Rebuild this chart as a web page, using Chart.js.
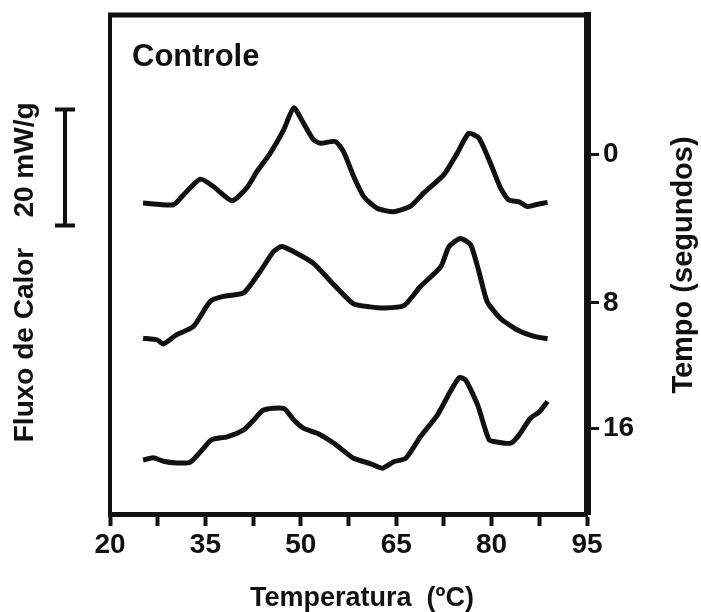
<!DOCTYPE html>
<html>
<head>
<meta charset="utf-8">
<script src="https://cdn.jsdelivr.net/npm/chart.js@4/dist/chart.umd.min.js"></script>
<style>
  html, body { margin: 0; padding: 0; background: #fff; }
  #chart { display: block; }
</style>
</head>
<body>
<canvas id="chart" width="701" height="612"></canvas>
<script>
// ── Data ─────────────────────────────────────────────────────────
// temperature in °C, heat flow in mW/g (curves are offset vertically)
const temps0 = [25.2, 30.0, 31.3, 34.2, 36.3, 39.2, 41.5, 43.1, 45.2, 47.3, 48.9, 50.4, 52.0, 53.1, 55.4, 56.7, 58.3, 59.9, 62.0, 64.6, 67.2, 69.3, 72.5, 74.6, 76.4, 78.0, 79.8, 81.4, 82.7, 84.3, 85.6, 86.9, 88.8];
const flow0  = [53.6, 53.3, 54.7, 57.7, 56.4, 54.0, 56.2, 59.0, 62.2, 66.2, 70.0, 67.4, 64.5, 63.9, 64.2, 62.5, 58.2, 54.7, 52.7, 52.1, 53.0, 55.3, 58.5, 62.2, 65.6, 64.8, 60.5, 56.2, 54.1, 53.8, 53.0, 53.3, 53.7];

const temps8 = [25.2, 27.4, 28.4, 30.5, 33.1, 35.8, 37.8, 41.0, 43.6, 45.7, 47.0, 48.9, 52.0, 55.2, 58.3, 60.9, 63.0, 66.2, 68.8, 72.0, 73.3, 75.1, 76.7, 78.0, 79.3, 81.4, 84.1, 86.7, 88.8];
const flow8  = [30.3, 30.0, 29.3, 30.9, 32.3, 36.7, 37.5, 38.1, 41.8, 45.2, 46.1, 45.2, 43.2, 39.5, 36.2, 35.7, 35.5, 35.9, 39.2, 42.6, 46.1, 47.5, 46.4, 41.8, 36.6, 33.7, 31.7, 30.6, 30.2];

const temps16 = [25.2, 26.8, 28.4, 30.5, 32.6, 34.2, 36.0, 38.4, 41.0, 42.6, 44.1, 47.3, 48.9, 50.4, 52.6, 55.2, 58.3, 60.9, 62.8, 64.6, 66.5, 68.8, 71.5, 73.5, 74.9, 75.9, 77.8, 79.6, 80.9, 83.0, 84.3, 86.1, 87.5, 88.8];
const flow16  = [9.3, 9.7, 9.1, 8.8, 8.9, 10.7, 12.8, 13.3, 14.5, 16.2, 17.9, 18.2, 16.2, 14.8, 13.9, 12.2, 9.6, 8.7, 7.9, 9.0, 9.6, 13.3, 17.1, 21.1, 23.5, 23.1, 18.8, 12.8, 12.4, 12.2, 13.6, 16.5, 17.6, 19.4];

// x axis: ticks every 7.5 °C, labels every 15 °C
const tempTicks  = [20, 27.5, 35, 42.5, 50, 57.5, 65, 72.5, 80, 87.5, 95];
const tempLabels = ['20', '35', '50', '65', '80', '95'];

// right axis: time labels placed at the baseline level of each curve
const timeTickValues = [62.0, 36.4, 14.7];
const timeLabels     = ['0', '8', '16'];

// scale bar: 20 mW/g
const scaleBarFrom = 49.7;
const scaleBarSize = 20;

const INK  = '#111';
const FONT = "'Liberation Sans', Arial, sans-serif";

function toPoints(xs, ys) {
  return xs.map((x, i) => ({ x: x, y: ys[i] }));
}

function curve(label, xs, ys) {
  return {
    label: label,
    data: toPoints(xs, ys),
    borderColor: INK,
    borderWidth: 5,
    pointRadius: 0,
    tension: 0.2,
    fill: false,
  };
}

// ── Extra decorations: frame, scale bar, titles ──────────────────
const decorations = {
  id: 'decorations',
  afterDraw(chart) {
    const { ctx, chartArea: a } = chart;
    const y = chart.scales.y;
    ctx.save();
    ctx.strokeStyle = INK;
    ctx.fillStyle = INK;
    ctx.lineCap = 'butt';

    // top and left edges of the frame
    ctx.lineWidth = 5;
    ctx.beginPath();
    ctx.moveTo(a.left - 2, a.top);
    ctx.lineTo(a.right + 3, a.top);
    ctx.stroke();
    ctx.lineWidth = 4;
    ctx.beginPath();
    ctx.moveTo(a.left, a.top - 2);
    ctx.lineTo(a.left, a.bottom);
    ctx.stroke();

    // scale bar
    const barX = 65;
    const yTop = y.getPixelForValue(scaleBarFrom + scaleBarSize);
    const yBot = y.getPixelForValue(scaleBarFrom);
    ctx.lineWidth = 4;
    ctx.beginPath();
    ctx.moveTo(barX, yTop); ctx.lineTo(barX, yBot);
    ctx.moveTo(barX - 10, yTop); ctx.lineTo(barX + 10, yTop);
    ctx.moveTo(barX - 10, yBot); ctx.lineTo(barX + 10, yBot);
    ctx.stroke();

    // panel title
    ctx.font = 'bold 31px ' + FONT;
    ctx.textAlign = 'left';
    ctx.textBaseline = 'alphabetic';
    ctx.fillText('Controle', 132, 66);

    // rotated labels
    rotatedText(ctx, 'Fluxo de Calor', 33, 345, 'bold 28px ' + FONT);
    rotatedText(ctx, scaleBarSize + ' mW/g', 33, 160, 'bold 28px ' + FONT);
    rotatedText(ctx, 'Tempo (segundos)', 692, 265, 'bold 29px ' + FONT);

    // x title
    ctx.font = 'bold 27px ' + FONT;
    ctx.textAlign = 'center';
    ctx.fillText('Temperatura  (ºC)', 362, 606);
    ctx.restore();
  },
};

function rotatedText(ctx, text, x, y, font) {
  ctx.save();
  ctx.translate(x, y);
  ctx.rotate(-Math.PI / 2);
  ctx.font = font;
  ctx.textAlign = 'center';
  ctx.textBaseline = 'alphabetic';
  ctx.fillText(text, 0, 0);
  ctx.restore();
}

// ── Chart ────────────────────────────────────────────────────────
new Chart(document.getElementById('chart').getContext('2d'), {
  type: 'line',
  data: {
    datasets: [
      curve('0 s', temps0, flow0),
      curve('8 s', temps8, flow8),
      curve('16 s', temps16, flow16),
    ],
  },
  options: {
    responsive: false,
    animation: false,
    layout: { padding: { left: 110, top: 15, right: 0, bottom: 0 } },
    plugins: { legend: { display: false }, tooltip: { enabled: false } },
    scales: {
      x: {
        type: 'linear',
        position: 'bottom',
        min: 20,
        max: 95,
        afterBuildTicks: s => { s.ticks = tempTicks.map(v => ({ value: v })); },
        afterFit: s => { s.height = 98; s.paddingLeft = 0; s.paddingRight = 0; },
        ticks: {
          autoSkip: false,
          maxRotation: 0,
          padding: 2,
          color: INK,
          font: { family: FONT, size: 28, weight: 'bold' },
          callback: v => tempLabels.includes(String(v)) ? String(v) : '',
        },
        grid: { drawOnChartArea: false, tickLength: 12, tickWidth: 4, tickColor: INK },
        border: { color: INK, width: 5 },
      },
      y: {
        type: 'linear',
        position: 'right',
        min: 0,
        max: 86,
        afterBuildTicks: s => { s.ticks = timeTickValues.map(v => ({ value: v })); },
        afterFit: s => { s.width = 114; s.paddingTop = 0; s.paddingBottom = 0; },
        ticks: {
          padding: 4,
          color: INK,
          font: { family: FONT, size: 28, weight: 'bold' },
          callback: (v, i) => timeLabels[i],
        },
        grid: { drawOnChartArea: false, tickLength: 12, tickWidth: 3, tickColor: INK },
        border: { color: INK, width: 7 },
      },
    },
  },
  plugins: [decorations],
});
</script>
</body>
</html>
